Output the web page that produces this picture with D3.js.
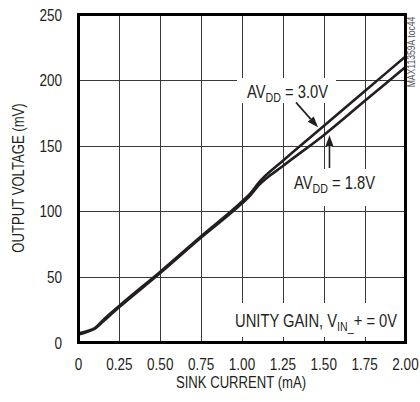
<!DOCTYPE html>
<html><head><meta charset="utf-8">
<script src="https://cdn.jsdelivr.net/npm/d3@7"></script>
<style>
html,body{margin:0;padding:0;background:#fff;}
svg{display:block;}
text{font-family:"Liberation Sans","Arial",sans-serif;fill:#231f20;}
</style></head>
<body>
<script>
// Data
const current = [0, 0.05, 0.1, 0.15, 0.25, 0.5, 0.75, 1.0, 1.05, 1.1, 1.25, 1.5, 1.75, 2.0];
const avdd30 = [7, 8.5, 11, 17, 28, 54, 81, 107.5, 113.5, 121.5, 138.5, 165, 191.5, 218];
const avdd18 = [6, 8, 10.5, 16, 27, 53, 80, 106, 112, 119.5, 134.5, 158, 184, 210];
const xTicks = [0, 0.25, 0.5, 0.75, 1.0, 1.25, 1.5, 1.75, 2.0];
const xTickLabels = ["0", "0.25", "0.50", "0.75", "1.00", "1.25", "1.50", "1.75", "2.00"];
const yTicks = [0, 50, 100, 150, 200, 250];
const yTickLabels = ["0", "50", "100", "150", "200", "250"];

const W = 420, H = 402;
const NARROW = 0.82;
const svg = d3.select("body").append("svg").attr("width", W).attr("height", H);
const x = d3.scaleLinear().domain([0, 2]).range([78.5, 405.5]);
const y = d3.scaleLinear().domain([0, 250]).range([342.5, 14.5]);
const ink = "#231f20";

function ntext(px, py, size, anchor, rot) {
  return svg.append("text")
    .attr("transform", `translate(${px},${py})` + (rot ? ` rotate(${rot})` : "") + ` scale(${NARROW},1)`)
    .attr("font-size", size).attr("text-anchor", anchor || "start");
}

// grid
const grid = svg.append("g");
grid.selectAll("line.v").data(xTicks.slice(1, -1)).enter().append("line")
  .attr("x1", d => Math.round(x(d)) + 0.5).attr("x2", d => Math.round(x(d)) + 0.5)
  .attr("y1", y(250)).attr("y2", y(0)).attr("stroke", "#3a3a3a").attr("stroke-width", 1);
grid.selectAll("line.h").data(yTicks.slice(1, -1)).enter().append("line")
  .attr("y1", d => Math.round(y(d)) + 0.5).attr("y2", d => Math.round(y(d)) + 0.5)
  .attr("x1", x(0)).attr("x2", x(2)).attr("stroke", "#3a3a3a").attr("stroke-width", 1);

// white label backgrounds
svg.append("rect").attr("x", 237).attr("y", 78).attr("width", 99).attr("height", 25).attr("fill", "#fff");
svg.append("rect").attr("x", 290).attr("y", 169).attr("width", 92).attr("height", 37).attr("fill", "#fff");
svg.append("rect").attr("x", 230).attr("y", 303).attr("width", 162).attr("height", 34).attr("fill", "#fff");

// curves
const line = d3.line().x((d, i) => x(current[i])).y(d => y(d)).curve(d3.curveMonotoneX);
[avdd18, avdd30].forEach(s => {
  svg.append("path").datum(s).attr("d", line).attr("fill", "none")
    .attr("stroke", ink).attr("stroke-width", 2.6).attr("stroke-linejoin", "round");
});

// border
svg.append("rect").attr("x", x(0)).attr("y", y(250)).attr("width", x(2) - x(0)).attr("height", y(0) - y(250))
  .attr("fill", "none").attr("stroke", "#000").attr("stroke-width", 3);

// axis labels
xTicks.forEach((d, i) => ntext(x(d), 370, 16.5, "middle").text(xTickLabels[i]));
yTicks.forEach((d, i) => ntext(62, y(d) + 6, 16.5, "end").text(yTickLabels[i]));

ntext(241, 388, 16, "middle").text("SINK CURRENT (mA)");
ntext(24, 178, 16, "middle", -90).text("OUTPUT VOLTAGE (mV)");

// watermark
ntext(415, 52, 10.5, "middle", -90).style("fill", "#555").text("MAX11359A toc44");

// annotations
function subLabel(px, py, parts) {
  const t = ntext(px, py, 18, "start");
  parts.forEach(p => {
    const ts = t.append("tspan").text(p.t);
    if (p.sub) ts.attr("font-size", 13).attr("dy", 4);
    if (p.up) ts.attr("dy", -4);
  });
}
subLabel(247, 98, [{t: "AV"}, {t: "DD", sub: true}, {t: " = 3.0V", up: true}]);
subLabel(294, 189, [{t: "AV"}, {t: "DD", sub: true}, {t: " = 1.8V", up: true}]);
subLabel(235, 327, [{t: "UNITY GAIN, V"}, {t: "IN_", sub: true}, {t: "+ = 0V", up: true}]);

function arrow(x1, y1, x2, y2) {
  const ang = Math.atan2(y2 - y1, x2 - x1);
  const L = 11, Wd = 4;
  const bx = x2 - L * Math.cos(ang), by = y2 - L * Math.sin(ang);
  svg.append("line").attr("x1", x1).attr("y1", y1).attr("x2", bx).attr("y2", by)
    .attr("stroke", "#fff").attr("stroke-width", 5);
  svg.append("line").attr("x1", x1).attr("y1", y1).attr("x2", bx).attr("y2", by)
    .attr("stroke", ink).attr("stroke-width", 1.6);
  const pts = [[x2, y2], [bx + Wd * Math.sin(ang), by - Wd * Math.cos(ang)], [bx - Wd * Math.sin(ang), by + Wd * Math.cos(ang)]];
  svg.append("polygon").attr("points", pts.map(p => p.join(",")).join(" ")).attr("fill", ink);
}
arrow(x(1.33), y(183), x(1.465), y(164));
arrow(x(1.535), y(133), x(1.535), y(158));
</script>
</body></html>
